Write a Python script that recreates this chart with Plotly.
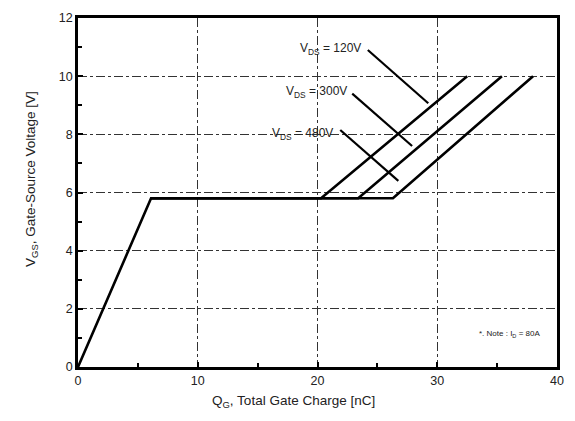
import plotly.graph_objects as go

# Gate charge curves (Qg [nC], Vgs [V])
q_120 = [0, 6.1, 20.3, 32.5]
v_120 = [0, 5.8, 5.8, 10]
q_300 = [6.1, 23.4, 35.4]
v_300 = [5.8, 5.8, 10]
q_480 = [6.1, 26.3, 38.0]
v_480 = [5.8, 5.8, 10]

labels = ["V<sub>DS</sub> = 120V", "V<sub>DS</sub> = 300V", "V<sub>DS</sub> = 480V"]
label_text_x = [23.8, 22.6, 21.5]
label_text_y = [10.95, 9.45, 8.0]
arrow_start_x = [24.2, 22.9, 21.9]
arrow_start_y = [10.9, 9.4, 8.15]
arrow_end_x = [29.25, 27.9, 26.75]
arrow_end_y = [9.07, 7.6, 6.4]

x_ticks = [0, 10, 20, 30, 40]
y_ticks = [0, 2, 4, 6, 8, 10, 12]

fig = go.Figure()
line_style = dict(color="black", width=2.6)
for qx, vy in [(q_120, v_120), (q_300, v_300), (q_480, v_480)]:
    fig.add_trace(go.Scatter(x=qx, y=vy, mode="lines", line=line_style,
                             showlegend=False, hoverinfo="skip"))

for i in range(3):
    fig.add_trace(go.Scatter(x=[arrow_start_x[i], arrow_end_x[i]],
                             y=[arrow_start_y[i], arrow_end_y[i]],
                             mode="lines", line=dict(color="black", width=2.2),
                             showlegend=False, hoverinfo="skip"))
    fig.add_annotation(x=label_text_x[i], y=label_text_y[i], text=labels[i],
                       showarrow=False, xanchor="right", yanchor="middle",
                       font=dict(size=12, color="#222"))

fig.add_annotation(x=36.0, y=1.15, text="*. Note : I<sub>D</sub> = 80A",
                   showarrow=False, xanchor="center", yanchor="middle",
                   font=dict(size=8, color="#222"))

# axis titles
fig.add_annotation(xref="paper", yref="paper", x=0.449, y=-0.1,
                   text="Q<sub>G</sub>, Total Gate Charge [nC]", showarrow=False,
                   xanchor="center", yanchor="middle",
                   font=dict(size=13.5, color="#222"))
fig.add_annotation(xref="paper", yref="paper", x=-0.096, y=0.539,
                   text="V<sub>GS</sub>, Gate-Source Voltage [V]", showarrow=False,
                   textangle=-90, xanchor="center", yanchor="middle",
                   font=dict(size=13.5, color="#222"))

axis_common = dict(showline=True, linecolor="black", linewidth=2.5, mirror=True,
                   showgrid=True, gridcolor="#333", gridwidth=1, griddash="dashdot",
                   ticks="inside", ticklen=5, tickwidth=2, tickcolor="black",
                   zeroline=False, automargin=False,
                   tickfont=dict(size=12.5, color="#222"),
                   minor=dict(ticks="inside", ticklen=4, tickwidth=2, tickcolor="black",
                              showgrid=False))

fig.update_xaxes(range=[0, 40], tickvals=x_ticks, **axis_common)
fig.update_yaxes(range=[0, 12], tickvals=y_ticks, **axis_common)
fig.update_xaxes(minor_tickvals=[5, 15, 25, 35])
fig.update_yaxes(minor_tickvals=[1, 3, 5, 7, 9, 11])

fig.update_layout(width=567, height=413, margin=dict(l=70, r=18, t=10, b=54),
                  plot_bgcolor="white", paper_bgcolor="white",
                  font=dict(family="Liberation Sans, Arial, sans-serif"))

fig.write_html("out.html")
